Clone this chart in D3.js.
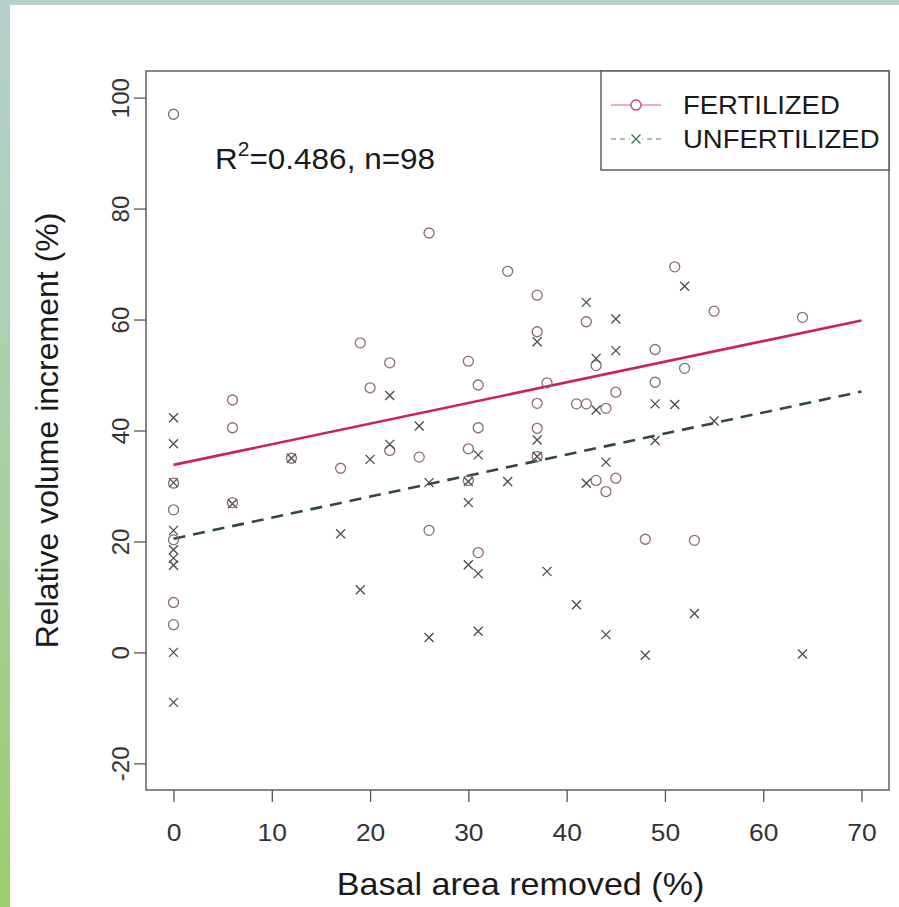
<!DOCTYPE html>
<html><head><meta charset="utf-8">
<script src="https://cdn.jsdelivr.net/npm/d3@7"></script>
<style>body{margin:0;background:#fff} svg{display:block}</style>
</head><body>
<svg id="chart" width="899" height="907"></svg>
<script>
// ---- data ----
const xTicks = [0, 10, 20, 30, 40, 50, 60, 70];
const yTicks = [-20, 0, 20, 40, 60, 80, 100];
const seriesNames = ["FERTILIZED", "UNFERTILIZED"];
const fertX = [0,0,0,0,0,0, 6,6,6, 12,17,19,20,22,22,25, 26,26,30,30,30,31,31,31,
  34,37,37,37,37,37,38, 41,42,42,43,43,44,44,45,45, 48,49,49,51,52,53,55,64];
const fertY = [97,30.5,25.7,20.3,9,5, 45.5,40.5,27, 35,33.2,55.8,47.7,52.2,36.4,35.2,
  75.6,22,52.5,36.7,31,48.2,40.5,18, 68.7,64.4,57.8,44.9,40.4,35.3,48.6,
  44.8,59.6,44.8,51.7,31,44,29,46.9,31.4, 20.4,54.6,48.7,69.5,51.2,20.2,61.5,60.4];
const unfertX = [0,0,0,0,0,0,0,0,0, 6,12,17,19,20,22,22,25, 26,26,30,30,30,31,31,31,
  34,37,37,37,38,41,42,42, 43,43,44,44,45,45,48,49,49, 51,52,53,55,64];
const unfertY = [42.3,37.6,30.6,22,18.5,17,15.7,0,-9, 26.8,35,21.4,11.3,34.8,46.3,37.5,40.8,
  30.6,2.7,30.8,27,15.8,35.6,14.2,3.8, 30.8,56,38.3,35.3,14.6,8.6,63.1,30.5,
  53,43.7,34.3,3.2,60.1,54.4,-0.5,44.8,38.2, 44.7,66,7,41.7,-0.3];
const fitIntercept = [33.8, 20.5];
const fitSlope = [0.372, 0.379];
const fitRange = [0, 70];
const r2Text = ["R", "2", "=0.486, n=98"];
const xTitle = "Basal area removed (%)";
const yTitle = "Relative volume increment (%)";

// ---- drawing ----
const svg = d3.select("#chart");
const W = 899, H = 907;
const plot = {left: 146, right: 889, top: 71, bottom: 790};
const stretch = 1.1;
const font = "'Liberation Sans', Arial, sans-serif";

// background frame
const defs = svg.append("defs");
const grad = defs.append("linearGradient").attr("id", "lg").attr("x1", 0).attr("y1", 0).attr("x2", 0).attr("y2", 1);
grad.append("stop").attr("offset", "0%").attr("stop-color", "#b5d0cd");
grad.append("stop").attr("offset", "50%").attr("stop-color", "#a9cfa6");
grad.append("stop").attr("offset", "100%").attr("stop-color", "#9ccd6c");
svg.append("rect").attr("width", W).attr("height", H).attr("fill", "#fff");
svg.append("rect").attr("x", 0).attr("y", 0).attr("width", W).attr("height", 5).attr("fill", "#b5d0cd");
svg.append("rect").attr("x", 0).attr("y", 0).attr("width", 10).attr("height", H).attr("fill", "url(#lg)");

const x = d3.scaleLinear().domain([-2.8, 72.8]).range([plot.left, plot.right]);
const y = d3.scaleLinear().domain([-24.8, 104.8]).range([plot.bottom, plot.top]);
const fmt = d => String(d);

// axes
const xAxis = svg.append("g").attr("transform", `translate(0,${plot.bottom})`)
  .call(d3.axisBottom(x).tickValues(xTicks).tickSize(12).tickPadding(0).tickFormat(fmt));
xAxis.select(".domain").remove();
xAxis.selectAll("line").attr("stroke", "#555").attr("stroke-width", 1.3);
xAxis.selectAll("text").attr("font-family", font).attr("font-size", 24).attr("fill", "#333")
  .attr("dy", null).attr("y", 0)
  .attr("transform", "translate(0,51) scale(" + stretch + ",1)");

const yAxis = svg.append("g").attr("transform", `translate(${plot.left},0)`)
  .call(d3.axisLeft(y).tickValues(yTicks).tickSize(12).tickFormat(fmt));
yAxis.select(".domain").remove();
yAxis.selectAll("line").attr("stroke", "#555").attr("stroke-width", 1.3);
yAxis.selectAll("text").attr("font-family", font).attr("font-size", 24).attr("fill", "#333")
  .attr("x", 0).attr("dy", null).attr("y", 0)
  .attr("text-anchor", "middle")
  .attr("transform", "translate(-17,0) rotate(-90)");

// box
svg.append("rect").attr("x", plot.left).attr("y", plot.top)
  .attr("width", plot.right - plot.left).attr("height", plot.bottom - plot.top)
  .attr("fill", "none").attr("stroke", "#555").attr("stroke-width", 1.4);

// titles
svg.append("text").attr("font-family", font).attr("font-size", 31).attr("fill", "#1a1a1a")
  .attr("text-anchor", "middle")
  .attr("transform", `translate(${(plot.left + plot.right) / 2 + 3},895) scale(${stretch},1)`)
  .text(xTitle);
svg.append("text").attr("font-family", font).attr("font-size", 32).attr("fill", "#1a1a1a")
  .attr("text-anchor", "middle")
  .attr("transform", `translate(58,${(plot.top + plot.bottom) / 2}) rotate(-90)`)
  .text(yTitle);

// regression lines
const lineColors = ["#cc2255", "#2f4a3a"];
const g = svg.append("g");
[0, 1].forEach(i => {
  const pts = fitRange.map(v => [x(v), y(fitIntercept[i] + fitSlope[i] * v)]);
  g.append("path").attr("d", d3.line()(pts)).attr("fill", "none")
    .attr("stroke", lineColors[i]).attr("stroke-width", 2.6)
    .attr("stroke-dasharray", i === 1 ? "12,8" : null);
});

// points
const circleColor = "#8f6b74";
const crossColor = "#4a4a4a";
const fert = fertX.map((v, i) => [v, fertY[i]]);
const unfert = unfertX.map((v, i) => [v, unfertY[i]]);
svg.append("g").selectAll("circle").data(fert).join("circle")
  .attr("cx", d => x(d[0])).attr("cy", d => y(d[1])).attr("r", 5)
  .attr("fill", "none").attr("stroke", circleColor).attr("stroke-width", 1.3);
const cs = 4.5;
svg.append("g").selectAll("path").data(unfert).join("path")
  .attr("d", d => {
    const px = x(d[0]), py = y(d[1]);
    return `M${px - cs},${py - cs}L${px + cs},${py + cs}M${px - cs},${py + cs}L${px + cs},${py - cs}`;
  })
  .attr("fill", "none").attr("stroke", crossColor).attr("stroke-width", 1.3);

// legend
const lg = svg.append("g");
lg.append("rect").attr("x", 601).attr("y", plot.top).attr("width", plot.right - 601).attr("height", 99)
  .attr("fill", "#fff").attr("stroke", "#555").attr("stroke-width", 1.4);
const legY = [105, 139];
const legLine = ["#d9607a", "#3f8a5a"];
seriesNames.forEach((name, i) => {
  lg.append("line").attr("x1", 611).attr("x2", 661).attr("y1", legY[i]).attr("y2", legY[i])
    .attr("stroke", legLine[i]).attr("stroke-width", 1.1)
    .attr("stroke-dasharray", i === 1 ? "5,4" : null);
  if (i === 0) {
    lg.append("circle").attr("cx", 636).attr("cy", legY[i]).attr("r", 5)
      .attr("fill", "#fff").attr("stroke", "#c84060").attr("stroke-width", 1.3);
  } else {
    lg.append("rect").attr("x", 630).attr("y", legY[i] - 6).attr("width", 12).attr("height", 12).attr("fill", "#fff");
    lg.append("path").attr("d", `M${636 - cs},${legY[i] - cs}L${636 + cs},${legY[i] + cs}M${636 - cs},${legY[i] + cs}L${636 + cs},${legY[i] - cs}`)
      .attr("stroke", "#2f7a4a").attr("stroke-width", 1.3);
  }
  lg.append("text").attr("font-family", font).attr("font-size", 25).attr("fill", "#1a1a1a")
    .attr("transform", `translate(683,${legY[i] + 9}) scale(${stretch},1)`)
    .text(name);
});

// annotation
const ann = svg.append("text").attr("font-family", font).attr("font-size", 30).attr("fill", "#1a1a1a")
  .attr("transform", "translate(215,169) scale(1.05,1)");
ann.append("tspan").text(r2Text[0]);
ann.append("tspan").attr("font-size", 20).attr("dy", -13).text(r2Text[1]);
ann.append("tspan").attr("dy", 13).text(r2Text[2]);
</script>
</body></html>
